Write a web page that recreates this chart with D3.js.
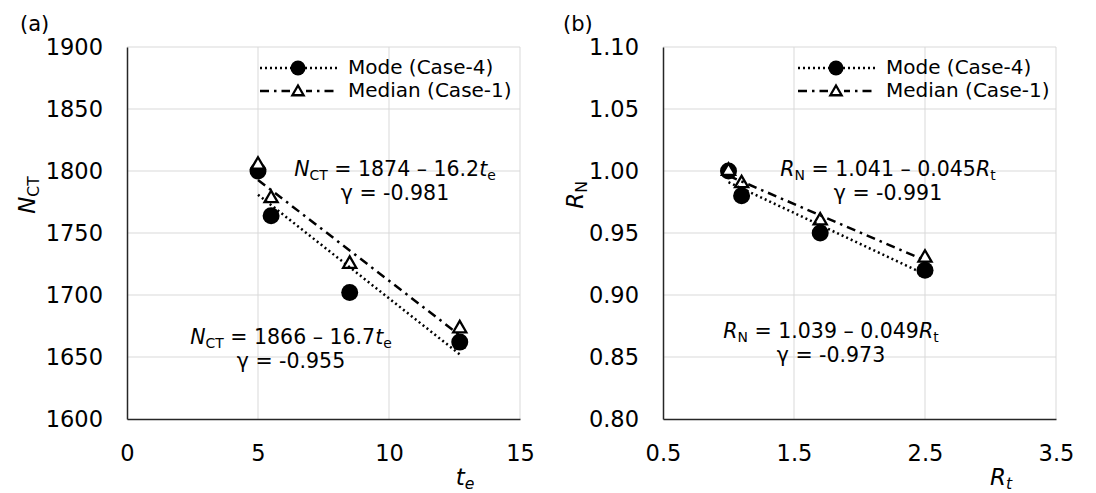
<!DOCTYPE html>
<html>
<head>
<meta charset="utf-8">
<script src="https://cdn.jsdelivr.net/npm/d3@7"></script>
<style>
  body { margin: 0; background: #fff; }
  svg text { font-family: "DejaVu Sans", sans-serif; fill: #000; }
</style>
</head>
<body>
<div id="chart"></div>
<script>
// ---- data, panel (a)
var teValues = [5.0, 5.5, 8.5, 12.7];
var nctMode = [1800, 1764, 1702, 1662];
var nctMedian = [1805, 1778, 1725, 1673];
var teTicks = [0, 5, 10, 15];
var nctTicks = [1600, 1650, 1700, 1750, 1800, 1850, 1900];

// ---- data, panel (b)
var rtValues = [1.0, 1.1, 1.7, 2.5];
var rnMode = [1.00, 0.98, 0.95, 0.92];
var rnMedian = [1.00, 0.99, 0.96, 0.93];
var rtTicks = [0.5, 1.5, 2.5, 3.5];
var rnTicks = [0.80, 0.85, 0.90, 0.95, 1.00, 1.05, 1.10];

var legendNames = ["Mode (Case-4)", "Median (Case-1)"];

var W = 1096, H = 493;
var svg = d3.select("#chart").append("svg")
    .attr("width", W)
    .attr("height", H);

var DOTTED = "2,3", DASHDOT = "9,5,2.5,5";
var FS = 20.5;      // notes
var FS_LEG = 20;    // legend
var FS_TICK = 22.5; // tick labels
var FS_TITLE = 23;  // axis titles

// least squares fit, returns [intercept, slope]
function fit(xs, ys) {
  var mx = d3.mean(xs), my = d3.mean(ys);
  var sxy = d3.sum(xs, (x, i) => (x - mx) * (ys[i] - my));
  var sxx = d3.sum(xs, x => (x - mx) * (x - mx));
  var b = sxy / sxx;
  return [my - b * mx, b];
}

// text with italic / subscript parts: [["N","i"],["CT","s"],[" = 1874"]]
function richText(g, x, y, parts, size) {
  size = size || FS;
  var t = g.append("text")
      .attr("x", x).attr("y", y)
      .attr("text-anchor", "middle")
      .attr("dominant-baseline", "middle")
      .style("font-size", size + "px");
  var down = false, dy = size * 0.27;
  parts.forEach(function(p) {
    var s = t.append("tspan").text(p[0]);
    var f = p[1] || "";
    if (f.indexOf("i") >= 0) s.style("font-style", "italic");
    if (f.indexOf("s") >= 0) {
      s.style("font-size", (size * 0.68) + "px").attr("dy", down ? 0 : dy);
      down = true;
    } else if (down) {
      s.attr("dy", -dy);
      down = false;
    }
  });
  return t;
}

function drawPanel(o) {
  var g = svg.append("g");
  var x = d3.scaleLinear().domain(o.xDomain).range([o.left, o.right]);
  var y = d3.scaleLinear().domain(o.yDomain).range([o.bottom, o.top]);

  // gridlines
  g.append("g")
    .selectAll("line")
    .data(o.yTicks.slice(1))
    .join("line")
      .attr("x1", o.left).attr("x2", o.right)
      .attr("y1", d => y(d)).attr("y2", d => y(d))
      .attr("stroke", "#d9d9d9").attr("stroke-width", 1);
  g.append("g")
    .selectAll("line")
    .data(o.xTicks.slice(1))
    .join("line")
      .attr("x1", d => x(d)).attr("x2", d => x(d))
      .attr("y1", o.top).attr("y2", o.bottom)
      .attr("stroke", "#d9d9d9").attr("stroke-width", 1);

  // axes
  var yAxis = g.append("g")
    .attr("transform", `translate(${o.left},0)`)
    .call(d3.axisLeft(y).tickValues(o.yTicks).tickFormat(o.yFmt).tickSize(0).tickPadding(24));
  var xAxis = g.append("g")
    .attr("transform", `translate(0,${o.bottom})`)
    .call(d3.axisBottom(x).tickValues(o.xTicks).tickFormat(o.xFmt).tickSize(0).tickPadding(26));
  [yAxis, xAxis].forEach(function(a) {
    a.select(".domain").attr("stroke", "#262626").attr("stroke-width", 1.5);
    a.selectAll("text").style("font-size", FS_TICK + "px").style("font-family", "DejaVu Sans, sans-serif").attr("fill", "#000");
  });

  // axis titles
  richText(g, o.left + 338, 478, o.xTitle, FS_TITLE);
  var yt = g.append("g").attr("transform", `translate(${o.left - o.yTitleOff},195) rotate(-90)`);
  richText(yt, 0, 0, o.yTitle, FS_TITLE);
  g.append("text")
    .attr("x", o.left - o.labelOff).attr("y", 25)
    .attr("dominant-baseline", "middle")
    .style("font-size", "21px")
    .text(o.label);

  // markers
  g.append("g")
    .selectAll("circle")
    .data(o.xs.map((d, i) => [d, o.mode[i]]))
    .join("circle")
      .attr("cx", d => x(d[0]))
      .attr("cy", d => y(d[1]))
      .attr("r", 8.5)
      .attr("fill", "#000");
  var tri = d3.symbol(d3.symbolTriangle, 75);
  g.append("g")
    .selectAll("path")
    .data(o.xs.map((d, i) => [d, o.median[i]]))
    .join("path")
      .attr("d", tri)
      .attr("transform", d => `translate(${x(d[0])},${y(d[1])})`)
      .attr("fill", "#fff")
      .attr("stroke", "#000")
      .attr("stroke-width", 2.3);

  // trendlines
  var ext = d3.extent(o.xs);
  [[o.mode, DOTTED], [o.median, DASHDOT]].forEach(function(s) {
    var c = fit(o.xs, s[0]);
    g.append("line")
      .attr("x1", x(ext[0])).attr("y1", y(c[0] + c[1] * ext[0]))
      .attr("x2", x(ext[1])).attr("y2", y(c[0] + c[1] * ext[1]))
      .attr("stroke", "#000")
      .attr("stroke-width", 2.5)
      .attr("stroke-dasharray", s[1]);
  });

  // legend
  var lx = o.legendX;
  legendNames.forEach(function(name, i) {
    var ly = 68 + i * 23;
    g.append("line")
      .attr("x1", lx).attr("x2", lx + 78)
      .attr("y1", ly).attr("y2", ly)
      .attr("stroke", "#000").attr("stroke-width", 2.5)
      .attr("stroke-dasharray", i === 0 ? DOTTED : DASHDOT);
    if (i === 0) {
      g.append("circle").attr("cx", lx + 38).attr("cy", ly).attr("r", 7.5).attr("fill", "#000");
    } else {
      g.append("rect").attr("x", lx + 30).attr("y", ly - 9).attr("width", 16).attr("height", 18).attr("fill", "#fff");
      g.append("path").attr("d", d3.symbol(d3.symbolTriangle, 55))
        .attr("transform", `translate(${lx + 38},${ly + 1})`)
        .attr("fill", "#fff").attr("stroke", "#000").attr("stroke-width", 2.3);
    }
    g.append("text")
      .attr("x", lx + 88).attr("y", ly)
      .attr("dominant-baseline", "middle")
      .style("font-size", FS_LEG + "px")
      .text(name);
  });

  // equations
  o.notes.forEach(function(n) {
    richText(g, n.x, n.y, n.eq);
    richText(g, n.x, n.y + 24, [["\u03b3 = " + n.r]]);
  });
}

drawPanel({
  label: "(a)", labelOff: 107,
  left: 127, right: 520, top: 47, bottom: 419,
  xDomain: [0, 15], yDomain: [1600, 1900],
  xTicks: teTicks, yTicks: nctTicks,
  xFmt: d3.format("d"), yFmt: d3.format("d"),
  xs: teValues, mode: nctMode, median: nctMedian,
  xTitle: [["t", "i"], ["e", "is"]],
  yTitle: [["N", "i"], ["CT", "s"]], yTitleOff: 99,
  legendX: 260,
  notes: [
    { x: 395, y: 170, eq: [["N", "i"], ["CT", "s"], [" = 1874 \u2013 16.2"], ["t", "i"], ["e", "s"]], r: "-0.981" },
    { x: 291, y: 338, eq: [["N", "i"], ["CT", "s"], [" = 1866 \u2013 16.7"], ["t", "i"], ["e", "s"]], r: "-0.955" }
  ]
});

drawPanel({
  label: "(b)", labelOff: 100,
  left: 663, right: 1056, top: 47, bottom: 419,
  xDomain: [0.5, 3.5], yDomain: [0.80, 1.10],
  xTicks: rtTicks, yTicks: rnTicks,
  xFmt: d3.format(".1f"), yFmt: d3.format(".2f"),
  xs: rtValues, mode: rnMode, median: rnMedian,
  xTitle: [["R", "i"], ["t", "is"]],
  yTitle: [["R", "i"], ["N", "s"]], yTitleOff: 87,
  legendX: 798,
  notes: [
    { x: 888, y: 170, eq: [["R", "i"], ["N", "s"], [" = 1.041 \u2013 0.045"], ["R", "i"], ["t", "s"]], r: "-0.991" },
    { x: 831, y: 332, eq: [["R", "i"], ["N", "s"], [" = 1.039 \u2013 0.049"], ["R", "i"], ["t", "s"]], r: "-0.973" }
  ]
});
</script>
</body>
</html>
